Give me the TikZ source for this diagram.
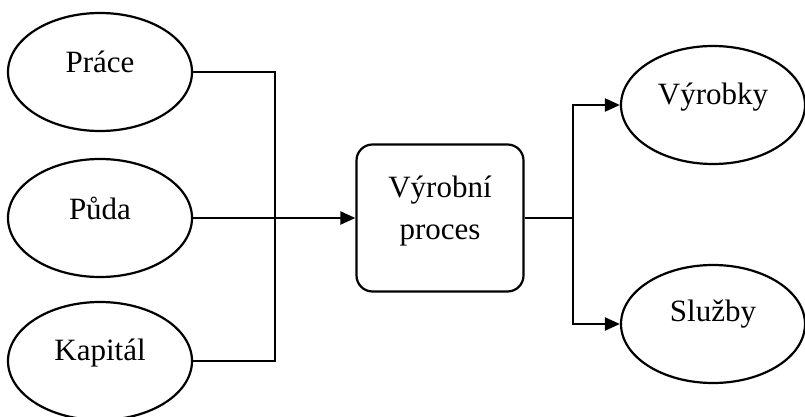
\documentclass[tikz,border=0pt]{standalone}
\usepackage{fontspec}
\setmainfont{Liberation Serif}
\usetikzlibrary{shapes.geometric,arrows.meta}
\begin{document}
\begin{tikzpicture}[x=1pt,y=-1pt,
  oval/.style={draw,line width=2.2pt,ellipse,minimum width=184pt,minimum height=118pt,inner sep=0pt},
  lbl/.style={font=\fontsize{31}{35}\selectfont,inner sep=0pt},
  procbox/.style={draw,line width=2.2pt,rounded corners=16pt,minimum width=167pt,minimum height=147pt,inner sep=0pt},
  conn/.style={line width=2.2pt},
  arr/.style={conn,-{Triangle[length=15pt,width=13pt]}}]
\useasboundingbox (0,0) rectangle (805,417);
\node[oval] (p) at (100,72) {};
\node[lbl] (pt) at (100,62) {Práce};
\node[oval] (d) at (100,218) {};
\node[lbl] (dt) at (100,208) {Půda};
\node[oval] (k) at (100,361) {};
\node[lbl] (kt) at (100,353) {Kapitál};
\node[procbox] (b) at (440,218) {};
\node[lbl,align=center,font=\fontsize{31}{42}\selectfont] (bt) at (440,211) {Výrobní\\proces};
\node[oval] (v) at (713,105) {};
\node[lbl] (vt) at (713,97) {Výrobky};
\node[oval] (s) at (713,324) {};
\node[lbl] (st) at (713,314) {Služby};
\coordinate (jl) at (275,218);
\coordinate (jr) at (573,218);
\draw[conn] (p.east) -| (jl) |- (k.east);
\draw[arr] (d.east) -- (b.west);
\draw[conn] (b.east) -- (jr);
\draw[arr] (jr) |- (v.west);
\draw[arr] (jr) |- (s.west);
\end{tikzpicture}
\end{document}
